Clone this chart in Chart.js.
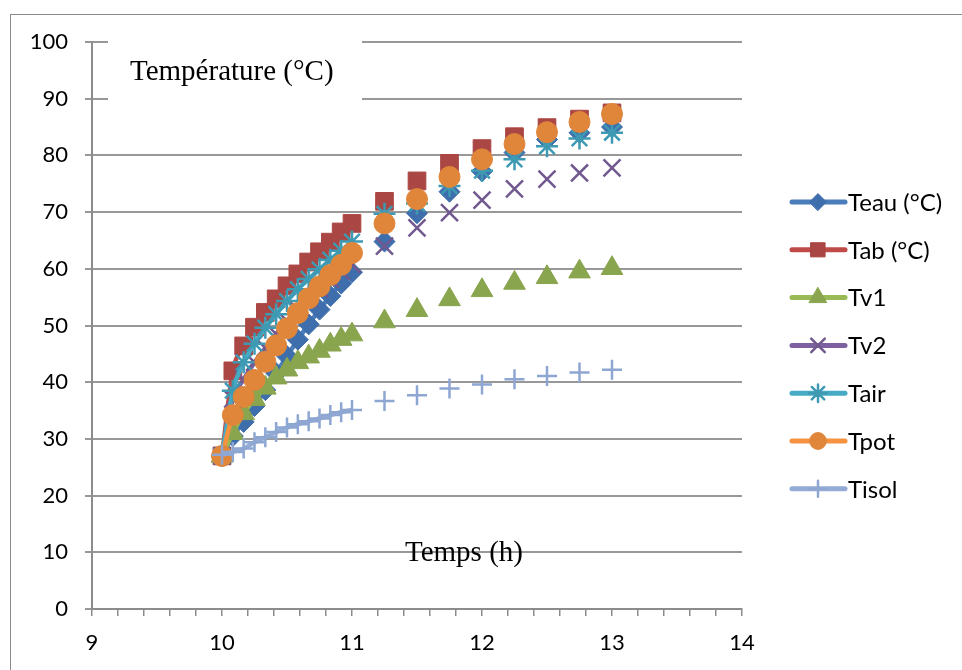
<!DOCTYPE html>
<html>
<head>
<meta charset="utf-8">
<script src="https://cdn.jsdelivr.net/npm/chart.js@4.4.1/dist/chart.umd.min.js"></script>
<style>
  html, body { margin: 0; padding: 0; background: #fff; }
  #wrap { width: 962px; height: 670px; }
</style>
</head>
<body>
<div id="wrap"><canvas id="tempChart" width="962" height="670"></canvas></div>
<script>
// readings: every 5 min for the first hour, then every 15 min
const times = [
  "10:00", "10:05", "10:10", "10:15", "10:20", "10:25", "10:30",
  "10:35", "10:40", "10:45", "10:50", "10:55", "11:00",
  "11:15", "11:30", "11:45", "12:00", "12:15", "12:30", "12:45", "13:00",
];

const teau = [27, 30.5, 33, 35.8, 38.6, 41.6, 44.6, 47.5, 50.2, 52.8, 55.2, 57.4, 59.4, 64.8, 69.8, 73.6, 77.2, 80.5, 82.8, 84.0, 85.0];
const tab = [27, 42.0, 46.4, 49.7, 52.3, 54.7, 57.0, 59.1, 61.2, 63.0, 64.7, 66.5, 68.0, 71.9, 75.5, 78.6, 81.2, 83.3, 84.9, 86.4, 87.5];
const tv1 = [27, 31, 34.5, 37, 39, 40.8, 42.2, 43.5, 44.5, 45.5, 46.6, 47.6, 48.4, 50.7, 52.7, 54.6, 56.2, 57.5, 58.5, 59.5, 60.1];
const tv2 = [27, 37, 40.5, 43.5, 46, 48.5, 50.8, 52.8, 54.7, 56.5, 58.2, 59.6, 60.8, 64.0, 67.2, 69.9, 72.1, 74.1, 75.8, 76.9, 77.8];
const tair = [27, 38.5, 43.5, 46.8, 49.6, 52.0, 54.3, 56.4, 58.2, 59.9, 61.6, 63.2, 64.8, 69.7, 71.5, 74.6, 77.3, 79.3, 81.6, 83.0, 84.0];
const tpot = [27, 34.2, 37.4, 40.4, 43.6, 46.5, 49.5, 52.2, 54.8, 56.9, 58.9, 60.7, 62.8, 68.0, 72.3, 76.2, 79.3, 82.0, 84.1, 85.9, 87.3];
const tisol = [27.2, 27.7, 28.3, 29.4, 30.3, 31.2, 32.0, 32.6, 33.1, 33.6, 34.2, 34.7, 35.1, 36.7, 37.7, 38.9, 39.6, 40.5, 41.1, 41.7, 42.2];

const xTickLabels = ["9", "10", "11", "12", "13", "14"];
const yTickLabels = ["0", "10", "20", "30", "40", "50", "60", "70", "80", "90", "100"];

function toHours(t) {
  const [h, m] = t.split(":").map(Number);
  return h + m / 60;
}

// the sheet has empty rows between 15-min readings, so the line breaks there
function buildPoints(values) {
  const points = [];
  times.forEach((t, i) => {
    const x = toHours(t);
    if (i > 0 && x - toHours(times[i - 1]) > 0.1) {
      points.push({ x: x - 0.01, y: null });
    }
    points.push({ x, y: values[i] });
  });
  return points;
}

function series(label, values, color, markerColor, pointStyle, radius, hollow) {
  return {
    label,
    data: buildPoints(values),
    borderColor: color,
    backgroundColor: markerColor,
    borderWidth: 4.5,
    cubicInterpolationMode: "monotone",
    spanGaps: false,
    pointStyle,
    pointRadius: radius,
    pointHoverRadius: radius,
    pointBackgroundColor: markerColor,
    pointBorderColor: markerColor,
    pointBorderWidth: hollow ? 2.5 : 1,
  };
}

const datasets = [
  series("Teau (°C)", teau, "#4A7DBA", "#3F6EAC", "rectRot", 10.5, false),
  series("Tab (°C)", tab, "#BE4B48", "#AA4643", "rect", 12.5, false),
  series("Tv1", tv1, "#98B954", "#89A54E", "triangle", 12.5, false),
  series("Tv2", tv2, "#7D60A0", "#71588F", "crossRot", 12, true),
  series("Tair", tair, "#46AAC5", "#3E9AB3", "star", 11, true),
  series("Tpot", tpot, "#F69240", "#E0863B", "circle", 10.5, false),
  series("Tisol", tisol, "#94ABD5", "#8EA6D2", "cross", 10, true),
];
// later series sit on top
datasets.forEach((ds, i) => { ds.order = datasets.length - i; });

const frame = {
  id: "frame",
  beforeDraw(chart) {
    const { ctx } = chart;
    ctx.save();
    ctx.fillStyle = "#fff";
    ctx.fillRect(0, 0, chart.width, chart.height);
    ctx.strokeStyle = "#8a8a8a";
    ctx.lineWidth = 1;
    ctx.strokeRect(10.5, 14.5, 970, 700);
    ctx.restore();
  },
};

const axisTitles = {
  id: "axisTitles",
  beforeDatasetsDraw(chart) {
    const { ctx } = chart;
    ctx.save();
    ctx.fillStyle = "#fff";
    ctx.fillRect(108, 40, 254, 61);
    ctx.fillStyle = "#000";
    ctx.font = "29px 'Liberation Serif'";
    ctx.textBaseline = "middle";
    ctx.textAlign = "left";
    ctx.fillText("Température (°C)", 130, 72);
    ctx.fillText("Temps (h)", 405, 553);
    ctx.restore();
  },
};

const sideLegend = {
  id: "sideLegend",
  afterDraw(chart) {
    const { ctx } = chart;
    chart.data.datasets.forEach((ds, i) => {
      const y = 202 + i * 47.8;
      ctx.save();
      ctx.strokeStyle = ds.borderColor;
      ctx.lineWidth = 5;
      ctx.lineCap = "round";
      ctx.beginPath();
      ctx.moveTo(792, y);
      ctx.lineTo(845, y);
      ctx.stroke();
      ctx.fillStyle = ds.pointBackgroundColor;
      ctx.strokeStyle = ds.pointBorderColor;
      ctx.lineWidth = ds.pointBorderWidth;
      Chart.helpers.drawPoint(ctx, {
        pointStyle: ds.pointStyle,
        radius: ds.pointRadius * 0.8,
        borderWidth: ds.pointBorderWidth,
        rotation: 0,
      }, 818, y);
      ctx.fillStyle = "#000";
      ctx.font = "24px Lato";
      ctx.textBaseline = "middle";
      ctx.textAlign = "left";
      ctx.fillText(ds.label, 848, y + 1);
      ctx.restore();
    });
  },
};

new Chart(document.getElementById("tempChart"), {
  type: "line",
  data: { datasets },
  options: {
    responsive: false,
    animation: false,
    devicePixelRatio: 1,
    layout: { padding: { top: 42, right: 220, left: 0, bottom: 0 } },
    plugins: {
      legend: { display: false },
      tooltip: { enabled: false },
    },
    scales: {
      x: {
        type: "linear",
        min: 9,
        max: 14,
        afterFit(scale) { scale.height = 61; },
        border: { color: "#8c8c8c", width: 2 },
        grid: { drawOnChartArea: false, tickLength: 7, color: "#8c8c8c", lineWidth: 1.5 },
        ticks: {
          stepSize: 0.2,
          autoSkip: false,
          maxRotation: 0,
          padding: 14,
          color: "#000",
          font: { family: "Lato", size: 22 },
          callback(value) {
            const idx = Math.round(value) - 9;
            return Math.abs(value - Math.round(value)) < 1e-6 ? xTickLabels[idx] : "";
          },
        },
      },
      y: {
        min: 0,
        max: 100,
        afterFit(scale) { scale.width = 92; },
        border: { color: "#8c8c8c", width: 2 },
        grid: { color: "#989898", lineWidth: 2, tickLength: 7 },
        ticks: {
          stepSize: 10,
          padding: 17,
          color: "#000",
          font: { family: "Lato", size: 22 },
          callback(value) {
            return yTickLabels[Math.round(value / 10)];
          },
        },
      },
    },
  },
  plugins: [frame, axisTitles, sideLegend],
});
</script>
</body>
</html>
